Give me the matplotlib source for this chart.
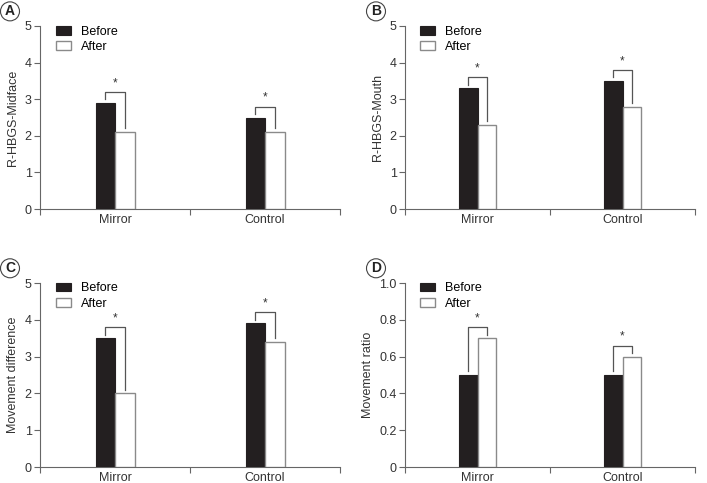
import matplotlib.pyplot as plt
import numpy as np

groups = ["Mirror", "Control"]
panel_letters = ["A", "B", "C", "D"]
y_labels = ["R-HBGS-Midface", "R-HBGS-Mouth", "Movement difference", "Movement ratio"]

before_a = [2.9, 2.5]
after_a = [2.1, 2.1]
before_b = [3.3, 3.5]
after_b = [2.3, 2.8]
before_c = [3.5, 3.9]
after_c = [2.0, 3.4]
before_d = [0.5, 0.5]
after_d = [0.7, 0.6]

y_max = [5, 5, 5, 1.0]
y_ticks = [[0, 1, 2, 3, 4, 5]] * 3 + [[0, 0.2, 0.4, 0.6, 0.8, 1.0]]
y_tick_labels = [["0", "1", "2", "3", "4", "5"]] * 3 + [["0", "0.2", "0.4", "0.6", "0.8", "1.0"]]

befores = [before_a, before_b, before_c, before_d]
afters = [after_a, after_b, after_c, after_d]

W, H = 707, 483
fig = plt.figure(figsize=(W / 100, H / 100), dpi=100)
plt.rcParams['font.family'] = ['Liberation Sans', 'DejaVu Sans']

# axes boxes in pixels: left, top, right, bottom
boxes = [(40, 26, 340, 209), (405, 26, 695, 209),
         (40, 283, 340, 467), (405, 283, 695, 467)]

bar_w = 0.13
gray = "#666666"

for i in range(4):
    l, t, r, b = boxes[i]
    ax = fig.add_axes([l / W, 1 - b / H, (r - l) / W, (b - t) / H])
    x = np.arange(len(groups))
    ax.bar(x - bar_w / 2, befores[i], bar_w, color="#231f20", edgecolor="#231f20",
           linewidth=0.8, label="Before", zorder=3)
    ax.bar(x + bar_w / 2, afters[i], bar_w, color="white", edgecolor="#8a8a8a",
           linewidth=1.0, label="After", zorder=3)

    ym = y_max[i]
    for j in range(len(groups)):
        top = max(befores[i][j], afters[i][j]) + 0.06 * ym
        xl = x[j] - bar_w / 2
        xr = x[j] + bar_w / 2
        ax.plot([xl, xl, xr, xr],
                [befores[i][j] + 0.02 * ym, top, top, afters[i][j] + 0.02 * ym],
                color="#555555", lw=0.9, zorder=4)
        ax.text(x[j], top + 0.015 * ym, "*", ha="center", va="bottom",
                fontsize=8.5, color="#333333")

    ax.set_xlim(-0.5, 1.5)
    ax.set_ylim(0, ym)
    ax.set_yticks(y_ticks[i])
    ax.set_yticklabels(y_tick_labels[i], fontsize=9, color="#333333")
    ax.set_xticks(x)
    ax.set_xticklabels(groups, fontsize=9, color="#333333")
    ax.tick_params(axis="x", length=0, pad=3.5)
    ax.set_xticks([-0.5, 0.5, 1.5], minor=True)
    ax.tick_params(axis="x", which="minor", length=4, color=gray, width=0.8)
    ax.tick_params(axis="y", length=4, color=gray, width=0.8, pad=2)
    for s in ["top", "right"]:
        ax.spines[s].set_visible(False)
    for s in ["left", "bottom"]:
        ax.spines[s].set_color(gray)
        ax.spines[s].set_linewidth(0.8)
    ax.set_ylabel(y_labels[i], fontsize=9, color="#333333", labelpad=4)

    leg = ax.legend(loc="upper left", bbox_to_anchor=(0.035, 1.03), frameon=False,
                    fontsize=9, handlelength=1.2, handleheight=0.7,
                    labelspacing=0.25, handletextpad=0.8, borderaxespad=0)

    ax.text(-0.1, 1.08, panel_letters[i], transform=ax.transAxes, ha="center",
            va="center", fontsize=10, fontweight="bold", color="#222222",
            bbox=dict(boxstyle="circle,pad=0.18", fc="white", ec="#444444", lw=0.8))

fig.savefig("out.png", dpi=100)
